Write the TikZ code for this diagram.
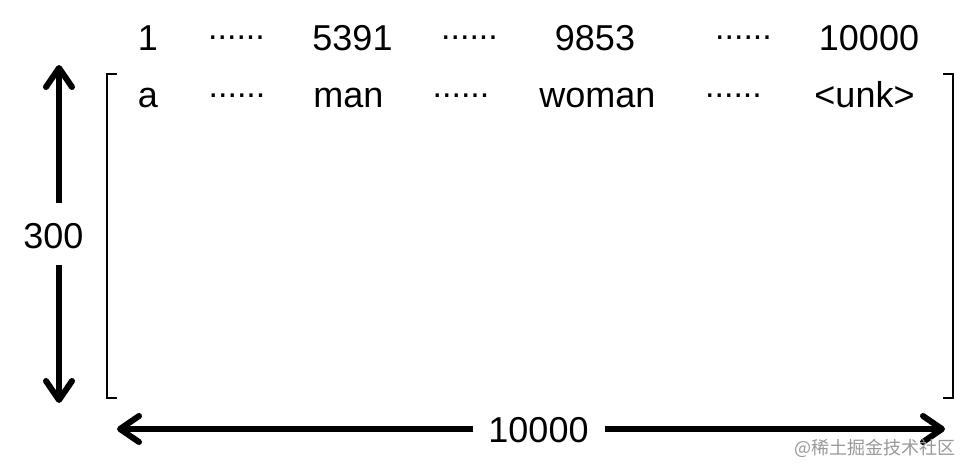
\documentclass[tikz,border=0pt]{standalone}
\usepackage{fontspec}
\setmainfont{Liberation Sans}
\newfontfamily\cjkfont{Noto Sans CJK SC}
\usetikzlibrary{arrows.meta}
\begin{document}
\begin{tikzpicture}[x=1pt,y=-1pt,
  txt/.style={font=\fontsize{36}{40}\selectfont, inner sep=0pt, anchor=base},
  dotrow/.style={font=\fontsize{34}{40}\selectfont, inner sep=0pt, anchor=base},
  lbl/.style={font=\fontsize{36}{40}\selectfont, inner ysep=0pt, inner xsep=0pt},
  arr/.style={line width=6pt, -{Straight Barb[length=19pt,width=26pt,round]}},
  bracket/.style={line width=2.2pt},
  wm/.style={font=\cjkfont\fontsize{18}{22}\selectfont, text=black!40, inner sep=0pt}]
\useasboundingbox (0,0) rectangle (972,475);
\fill[white] (0,0) rectangle (972,475);
% top row (indices)
\node[txt] (i1) at (148,50) {1};
\node[dotrow] (d11) at (236.5,39.5) {......};
\node[txt] (i5391) at (352.5,50) {5391};
\node[dotrow] (d12) at (469.5,39.5) {......};
\node[txt] (i9853) at (595,50) {9853};
\node[dotrow] (d13) at (743.5,39.5) {......};
\node[txt] (i10000) at (869,50) {10000};
% second row (words)
\node[txt] (wa) at (148,107) {a};
\node[dotrow] (d21) at (237,97.5) {......};
\node[txt] (wman) at (348.5,107) {man};
\node[dotrow] (d22) at (461,97.5) {......};
\node[txt] (wwoman) at (597.5,107) {woman};
\node[dotrow] (d23) at (733.5,97.5) {......};
\node[txt] (wunk) at (864.5,107) {<unk>};
% brackets
\draw[bracket] (117,74) -- (107,74) -- (107,398) -- (117,398);
\draw[bracket] (943,74) -- (953,74) -- (953,398) -- (943,398);
% vertical dimension
\coordinate (vtop) at (59,65);
\coordinate (vbot) at (59,403);
\coordinate (vgt) at (59,203);
\coordinate (vgb) at (59,265);
\node[lbl] (v300) at (53.5,236) {300};
\draw[arr] (vgt) -- (vtop);
\draw[arr] (vgb) -- (vbot);
% horizontal dimension
\coordinate (hleft) at (117,429);
\coordinate (hright) at (945,429);
\coordinate (hgl) at (473,429);
\coordinate (hgr) at (605,429);
\node[lbl] (h10000) at (538.5,430.5) {10000};
\draw[arr] (hgl) -- (hleft);
\draw[arr] (hgr) -- (hright);
% watermark
\node[wm] (wmark) at (875,448.5) {@稀土掘金技术社区};
\end{tikzpicture}
\end{document}
